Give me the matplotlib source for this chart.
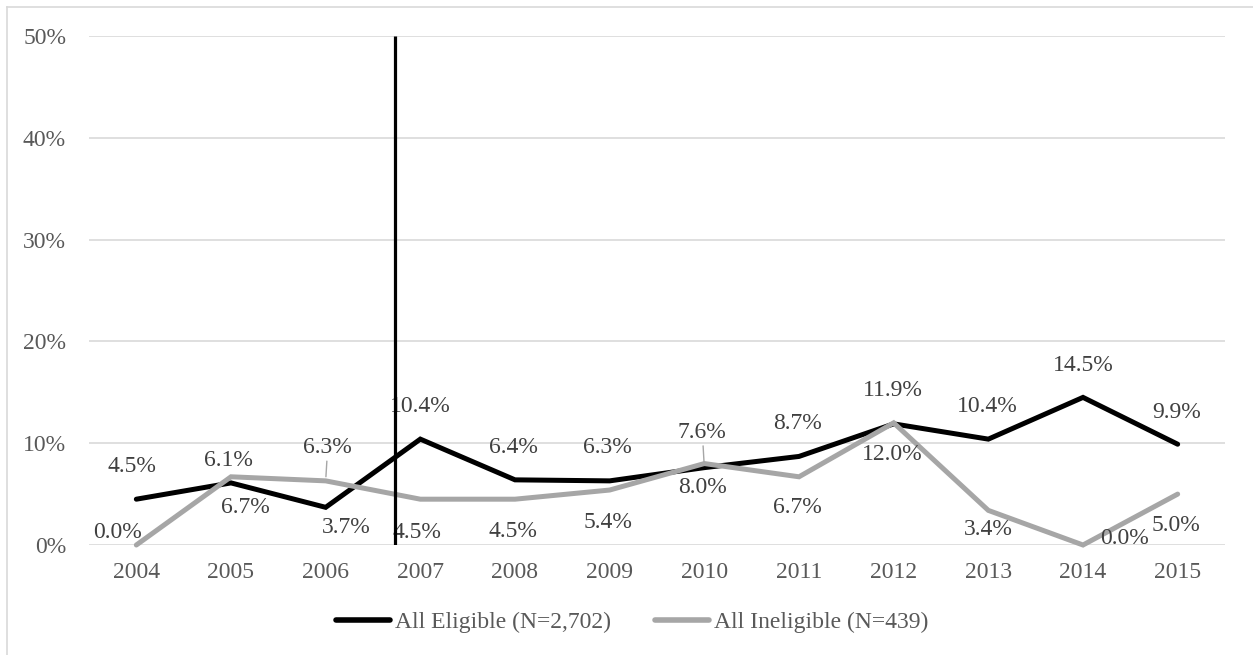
import matplotlib
matplotlib.use("Agg")
import matplotlib.pyplot as plt
from matplotlib.lines import Line2D

# ---- data -------------------------------------------------------------
years = ["2004", "2005", "2006", "2007", "2008", "2009",
         "2010", "2011", "2012", "2013", "2014", "2015"]
eligible = [4.5, 6.1, 3.7, 10.4, 6.4, 6.3, 7.6, 8.7, 11.9, 10.4, 14.5, 9.9]
ineligible = [0.0, 6.7, 6.3, 4.5, 4.5, 5.4, 8.0, 6.7, 12.0, 3.4, 0.0, 5.0]
y_ticks = [0, 10, 20, 30, 40, 50]
series_names = ["All Eligible (N=2,702)", "All Ineligible (N=439)"]

# ---- layout / style ----------------------------------------------------
FONT = "Liberation Serif"
FS = 17
BLACK = "#000000"
GREY = "#A6A6A6"
GRID = "#D9D9D9"
TICK_TXT = "#595959"
LABEL_TXT = "#404040"

# value-label placement, pixel offsets from each point (dx, dy up)
elig_offsets = [(-4, 33), (-3, 22), (21, -20), (0, 33), (-2, 32), (-2, 33),
                (-2, 35), (-2, 33), (-1, 33), (-1, 33), (0, 32), (-1, 32)]
inel_offsets = [(-19, 13), (14, -31), (2, 33), (-3, -33), (-2, -32), (-2, -32),
                (-2, -24), (-2, -31), (-1, -32), (0, -19), (42, 7), (-2, -31)]
elig_leaders = {6}
inel_leaders = {2}
cutoff_x = 2.73  # policy-change marker between 2006 and 2007

W, H = 1253, 655
fig = plt.figure(figsize=(W / 100, H / 100), dpi=100)
ax = fig.add_axes([89 / W, (H - 545) / H, 1136 / W, 509 / H])

x = list(range(len(years)))
ax.set_xlim(-0.5, len(years) - 0.5)
ax.set_ylim(0, 50)

for s in ax.spines.values():
    s.set_visible(False)
ax.set_yticks(y_ticks)
ax.set_yticklabels([f"{v}%" for v in y_ticks])
ax.set_xticks(x)
ax.set_xticklabels(years)
ax.tick_params(axis="both", length=0, labelsize=FS, labelcolor=TICK_TXT)
ax.tick_params(axis="y", pad=16.5)
ax.tick_params(axis="x", pad=12)
for lab in ax.get_xticklabels() + ax.get_yticklabels():
    lab.set_fontfamily(FONT)
ax.yaxis.grid(True, color=GRID, lw=1.2, zorder=0)
ax.set_axisbelow(True)

ax.plot(x, eligible, color=BLACK, lw=3.6, solid_capstyle="round",
        solid_joinstyle="miter", zorder=3, clip_on=False, label=series_names[0])
ax.plot(x, ineligible, color=GREY, lw=3.6, solid_capstyle="round",
        solid_joinstyle="miter", zorder=3.5, clip_on=False, label=series_names[1])


def add_labels(values, offsets, leaders):
    for i, (v, (dx, dy)) in enumerate(zip(values, offsets)):
        kw = {}
        if i in leaders:
            kw["arrowprops"] = dict(arrowstyle="-", color=GREY, lw=1.0,
                                    shrinkA=0, shrinkB=3)
        ax.annotate(f"{v:.1f}%", xy=(i, v), xytext=(dx, dy),
                    textcoords="offset pixels", ha="center", va="center",
                    fontsize=FS, family=FONT, color=LABEL_TXT,
                    zorder=4, annotation_clip=False, **kw)


add_labels(eligible, elig_offsets, elig_leaders)
add_labels(ineligible, inel_offsets, inel_leaders)

ax.vlines(cutoff_x, 0, 50, color=BLACK, lw=2.3, zorder=6)

handles = [Line2D([], [], color=BLACK, lw=4, solid_capstyle="round"),
           Line2D([], [], color=GREY, lw=4, solid_capstyle="round")]
leg = fig.legend(handles, series_names, loc="center",
                 bbox_to_anchor=(632 / W, 1 - 622 / H), ncol=2,
                 frameon=False, handlelength=2.3, handletextpad=0.2,
                 columnspacing=1.85,
                 prop={"family": FONT, "size": FS})
for t in leg.get_texts():
    t.set_color(TICK_TXT)

# outer chart frame
fig.add_artist(Line2D([6.5 / W, 1], [1 - 6.5 / H, 1 - 6.5 / H],
                      transform=fig.transFigure, color=GRID, lw=1.2))
fig.add_artist(Line2D([6.5 / W, 6.5 / W], [0, 1 - 6.5 / H],
                      transform=fig.transFigure, color=GRID, lw=1.2))

fig.savefig("out.png", dpi=100, facecolor="white")
